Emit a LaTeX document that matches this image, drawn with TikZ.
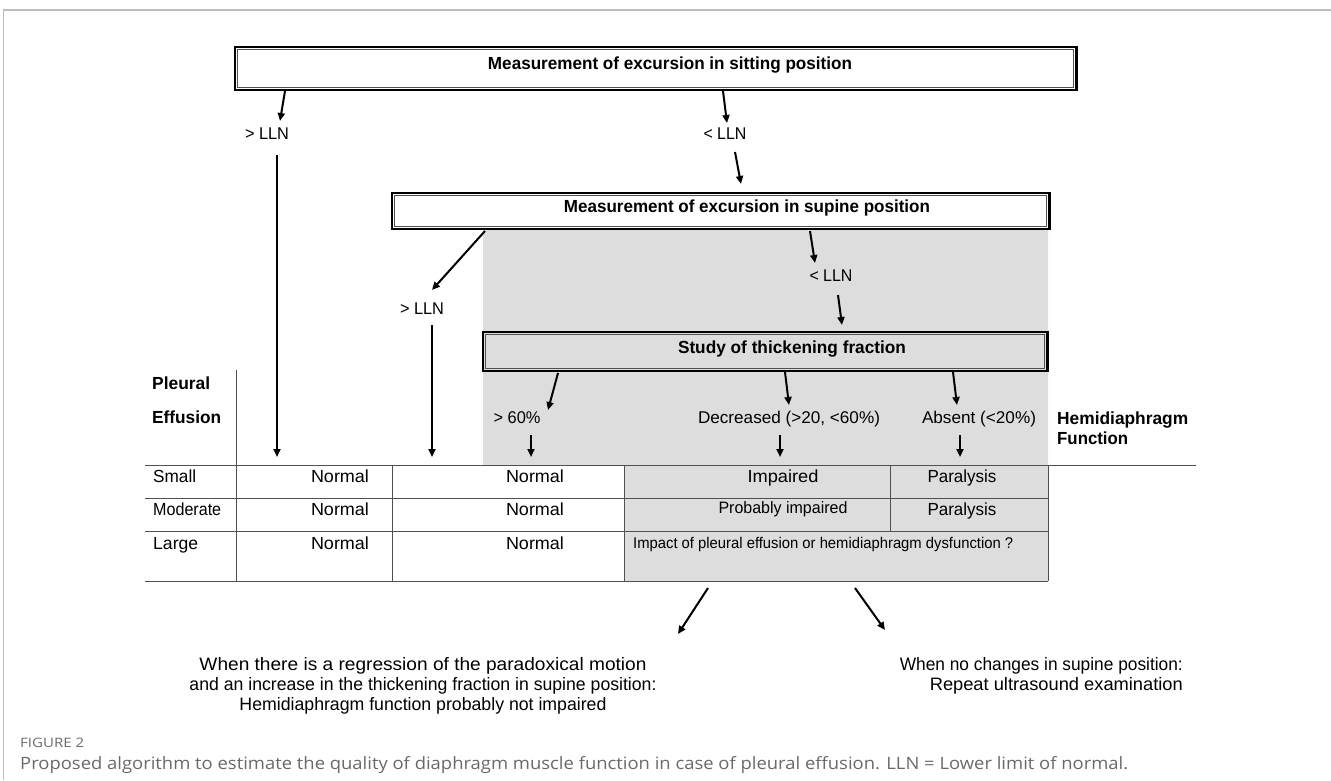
\documentclass[tikz,border=0pt]{standalone}
\usepackage{fontspec}
\usepackage{graphicx}
\setmainfont{Liberation Sans}
\newfontfamily\capfont{Open Sans}
\usetikzlibrary{arrows.meta}
\newcommand{\fitto}[2]{\resizebox{#1pt}{\height}{#2}}
\definecolor{areagray}{RGB}{221,221,221}
\definecolor{rulec}{RGB}{80,80,80}
\definecolor{capgray}{RGB}{105,105,105}
\definecolor{framegray}{RGB}{190,190,190}
\begin{document}
\begin{tikzpicture}[x=1pt,y=-1pt,
  arr/.style={line width=2pt,-{Triangle[length=8pt,width=7pt]}},
  txt/.style={inner sep=0pt,anchor=base,font=\fontsize{17}{20}\selectfont},
  btxt/.style={inner sep=0pt,anchor=base,font=\fontsize{17.5}{20}\selectfont\bfseries},
  ctxt/.style={inner sep=0pt,anchor=base,font=\fontsize{17.5}{20}\selectfont},
  boxw/.style={draw=black,line width=2pt,inner sep=0pt,fill=white},
  boxg/.style={boxw,fill=areagray},
  innerln/.style={draw=rulec,line width=0.8pt},
  shadowln/.style={draw=black,line width=1.5pt},
  tline/.style={draw=rulec,line width=1pt},
  captxt/.style={inner sep=0pt,anchor=base west,text=capgray}]
\useasboundingbox (0,0) rectangle (1331,780);
% page frame
\draw[framegray,line width=2pt] (3,10) -- (1331,10);
\draw[framegray,line width=1pt] (3,10) -- (3,780);
% shaded region
\fill[areagray] (483,229) -- (1048,229) -- (1048,581) -- (624,581) -- (624,465) -- (483,465) -- cycle;
% boxes
\node[boxw,minimum width=842pt,minimum height=43pt] (b1) at (656,68.5) {};
\draw[innerln] ([shift={(3,3)}]b1.north west) rectangle ([shift={(-5,-4)}]b1.south east);
\draw[shadowln] ([shift={(-2.5,0)}]b1.north east) -- ([shift={(-2.5,0)}]b1.south east);
\node[btxt] (t1) at (670,69) {\fitto{364}{Measurement of excursion in sitting position}};
\node[boxw,minimum width=658pt,minimum height=36pt] (b2) at (721,211) {};
\draw[innerln] ([shift={(3,3)}]b2.north west) rectangle ([shift={(-5,-4)}]b2.south east);
\draw[shadowln] ([shift={(-2.5,0)}]b2.north east) -- ([shift={(-2.5,0)}]b2.south east);
\node[btxt] (t2) at (747,212) {\fitto{366}{Measurement of excursion in supine position}};
\node[boxg,minimum width=565pt,minimum height=39pt] (b3) at (765.5,351.5) {};
\draw[innerln] ([shift={(3,3)}]b3.north west) rectangle ([shift={(-5,-4)}]b3.south east);
\draw[shadowln] ([shift={(-2.5,0)}]b3.north east) -- ([shift={(-2.5,0)}]b3.south east);
\node[btxt] (t3) at (792,353) {\fitto{228}{Study of thickening fraction}};
% labels
\node[txt] (l1) at (267,139) {\fitto{44}{> LLN}};
\node[txt] (l2) at (725,139) {\fitto{43}{< LLN}};
\node[txt] (l3) at (422,314) {\fitto{44}{> LLN}};
\node[txt] (l4) at (831,281) {\fitto{43}{< LLN}};
\node[txt] (l5) at (517,423) {\fitto{47}{> 60\%}};
\node[txt] (l6) at (789,423) {\fitto{182}{Decreased (>20, <60\%)}};
\node[txt] (l7) at (979,423) {\fitto{114}{Absent (<20\%)}};
\node[btxt,anchor=base west] (pl) at (152,389) {\fitto{58}{Pleural}};
\node[btxt,anchor=base west] (ef) at (152,423) {\fitto{69}{Effusion}};
\node[btxt,anchor=base west] (hd) at (1057,424) {\fitto{131}{Hemidiaphragm}};
\node[btxt,anchor=base west] (fn) at (1057,444) {\fitto{71}{Function}};
% table lines
\draw[tline] (236,370) -- (236,581);
\draw[tline] (145,465) -- (1196,465);
\draw[tline] (145,498) -- (1048,498);
\draw[tline] (145,531) -- (1048,531);
\draw[tline] (145,581) -- (1048,581);
\draw[tline] (392,465) -- (392,581);
\draw[tline] (624,465) -- (624,581);
\draw[tline] (890,465) -- (890,531);
\draw[tline] (1048,465) -- (1048,581);
% table texts
\node[ctxt,anchor=base west] (r1) at (153,482) {\fitto{43}{Small}};
\node[ctxt,anchor=base west] (r2) at (153,515) {\fitto{68}{Moderate}};
\node[ctxt,anchor=base west] (r3) at (153,549) {\fitto{45}{Large}};
\node[ctxt] (n11) at (340,482) {\fitto{58}{Normal}};
\node[ctxt] (n21) at (340,515) {\fitto{58}{Normal}};
\node[ctxt] (n31) at (340,549) {\fitto{58}{Normal}};
\node[ctxt] (n12) at (535,482) {\fitto{58}{Normal}};
\node[ctxt] (n22) at (535,515) {\fitto{58}{Normal}};
\node[ctxt] (n32) at (535,549) {\fitto{58}{Normal}};
\node[ctxt] (im) at (783,482) {\fitto{71}{Impaired}};
\node[ctxt] (pa1) at (962,482) {\fitto{69}{Paralysis}};
\node[ctxt] (pa2) at (962,515) {\fitto{69}{Paralysis}};
\node[txt,font=\fontsize{16.5}{18}\selectfont] (pi) at (783,513) {\fitto{129}{Probably impaired}};
\node[txt,anchor=base west,font=\fontsize{15.5}{18}\selectfont] (ip) at (633,548) {\fitto{380}{Impact of pleural effusion or hemidiaphragm dysfunction ?}};
% bottom texts
\node[txt,font=\fontsize{18}{20}\selectfont] (bl1) at (423,670) {\fitto{447}{When there is a regression of the paradoxical motion}};
\node[txt,font=\fontsize{18}{20}\selectfont] (bl2) at (423,690) {\fitto{467}{and an increase in the thickening fraction in supine position:}};
\node[txt,font=\fontsize{18}{20}\selectfont] (bl3) at (423,710) {\fitto{367}{Hemidiaphragm function probably not impaired}};
\node[txt,font=\fontsize{18}{20}\selectfont,anchor=base east] (br1) at (1183,670) {\fitto{283}{When no changes in supine position:}};
\node[txt,font=\fontsize{18}{20}\selectfont,anchor=base east] (br2) at (1183,690) {\fitto{253}{Repeat ultrasound examination}};
% caption
\node[captxt,font=\capfont\fontsize{13}{15}\selectfont] (fg) at (20,747) {\fitto{64}{FIGURE 2}};
\node[captxt,font=\capfont\fontsize{17}{20}\selectfont] (cap) at (20,769) {\fitto{1108}{Proposed algorithm to estimate the quality of diaphragm muscle function in case of pleural effusion. LLN = Lower limit of normal.}};
% arrow coordinates
\coordinate (s1) at (285,91);  \coordinate (e1) at (280,121);
\coordinate (s2) at (723,91);  \coordinate (e2) at (727,123);
\coordinate (s3) at (735,152); \coordinate (e3) at (741,184);
\coordinate (s4) at (277,155); \coordinate (e4) at (277,457);
\coordinate (s5) at (485,231); \coordinate (e5) at (432,290);
\coordinate (s6) at (432,325); \coordinate (e6) at (432,457);
\coordinate (s7) at (810,231); \coordinate (e7) at (815,263);
\coordinate (s8) at (838,295); \coordinate (e8) at (842,325);
\coordinate (s9) at (558,373); \coordinate (e9) at (548,410);
\coordinate (s10) at (785,372); \coordinate (e10) at (789,405);
\coordinate (s11) at (953,372); \coordinate (e11) at (957,405);
\coordinate (s12) at (531,435); \coordinate (e12) at (531,457);
\coordinate (s13) at (780,435); \coordinate (e13) at (780,457);
\coordinate (s14) at (960,435); \coordinate (e14) at (960,457);
\coordinate (s15) at (708,588); \coordinate (e15) at (678,634);
\coordinate (s16) at (855,588); \coordinate (e16) at (885,630);
\foreach \i in {1,...,16} {\draw[arr] (s\i) -- (e\i);}
\end{tikzpicture}
\end{document}
